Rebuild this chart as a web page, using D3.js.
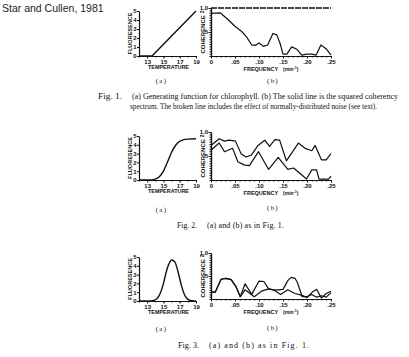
<!DOCTYPE html>
<html><head><meta charset="utf-8">
<script src="https://cdn.jsdelivr.net/npm/d3@7"></script>
<style>body{margin:0;background:#fff} svg{display:block}</style>
</head><body>
<svg id="c" width="409" height="357"></svg>
<script>
// ---------------- data ----------------
const tempTicks = [13, 15, 17, 19];
const fluorTicks = [0, 1, 2, 3, 4, 5];
const freqTicks = [0, 0.05, 0.10, 0.15, 0.20, 0.25];
const cohTicks = [0.5, 1.0];

// Fig. 1
const fig1Temp  = [12, 13.6, 19];
const fig1Fluor = [0, 0, 5];
const fig1Freq  = [0, .019, .033, .05, .064, .074, .085, .092, .10, .109, .118, .129, .137, .144, .150, .158, .168, .179, .189, .200, .210, .219, .229, .241, .25];
const fig1Coh   = [.89, .90, .78, .62, .51, .40, .23, .22, .27, .20, .23, .47, .44, .26, .04, .04, .19, .14, .02, .04, .04, .02, .23, .14, .02];
const fig1BrokenFreq = [0, 0.25];
const fig1BrokenCoh  = [1.0, 1.0];

// Fig. 2
const fig2Temp  = [12, 13, 13.5, 14, 14.5, 15, 15.5, 16, 16.5, 17, 17.5, 18, 19];
const fig2Fluor = [0, 0, 0.02, 0.1, 0.38, 1.0, 2.05, 3.15, 3.95, 4.4, 4.58, 4.65, 4.68];
const fig2FreqA = [0, .017, .028, .038, .051, .063, .073, .084, .098, .112, .122, .133, .143, .157, .182, .196, .21, .217, .23, .24, .25];
const fig2CohA  = [.72, .86, .81, .83, .81, .54, .48, .52, .72, .83, .70, .84, .83, .40, .77, .66, .61, .72, .42, .42, .55];
const fig2FreqB = [0, .017, .028, .045, .056, .07, .08, .099, .12, .14, .16, .172, .185, .199, .21, .22, .225, .245, .25];
const fig2CohB  = [.62, .77, .59, .66, .38, .31, .30, .59, .22, .47, .22, .25, .14, .02, .21, .21, .02, .02, .08];

// Fig. 3
const fig3Temp  = [12, 13, 13.5, 14, 14.4, 14.8, 15.0, 15.4, 15.8, 16.0, 16.4, 16.8, 17.2, 17.6, 18.0, 18.5, 19];
const fig3Fluor = [0, 0, 0.02, 0.12, 0.5, 1.35, 2.0, 3.5, 4.45, 4.66, 4.45, 3.3, 1.8, 0.68, 0.19, 0.03, 0];
const fig3FreqA = [0, .009, .021, .031, .042, .052, .061, .071, .085, .10, .11, .12, .13, .14, .15, .16, .167, .175, .18, .19, .20, .21, .22, .23, .24, .25];
const fig3CohA  = [.15, .15, .43, .45, .42, .27, .05, .33, .10, .39, .38, .22, .20, .20, .21, .40, .47, .45, .36, .05, .05, .10, .04, .07, .04, .14];
const fig3FreqB = [0, .009, .021, .031, .042, .052, .061, .071, .09, .105, .12, .13, .145, .16, .175, .19, .20, .21, .22, .23, .24, .25];
const fig3CohB  = [.15, .15, .43, .45, .42, .27, .05, .20, .05, .17, .22, .20, .10, .20, .12, .08, .03, .14, .21, .02, .12, .17];

const title = "Star and Cullen, 1981";
const caption1a = "(a) Generating function for chlorophyll. (b) The solid line is the squared coherency";
const caption1b = "spectrum. The broken line includes the effect of normally-distributed noise (see text).";
const captionSame = "(a) and (b) as in Fig. 1.";

// ---------------- drawing ----------------
const svg = d3.select("#c");
const INK = "#111";
const SANS = "'Liberation Sans', Arial, sans-serif";
const SERIF = "'Liberation Serif', 'Times New Roman', serif";

svg.append("text").attr("x", 2).attr("y", 12).attr("font-family", SANS).attr("font-size", 10.5)
  .attr("fill", "#222").text(title);

function styleAxis(g) {
  g.select(".domain").attr("stroke", INK).attr("stroke-width", 1.2);
  g.selectAll(".tick line").attr("stroke", INK).attr("stroke-width", 1);
  g.selectAll("text").attr("font-family", SANS).attr("font-weight", "bold")
    .attr("font-size", 6).attr("fill", INK);
}

function panelA(cfg, temps, vals, curve) {
  const x = d3.scaleLinear().domain([12, 19]).range(cfg.xr);
  const y = d3.scaleLinear().domain([0, 5]).range(cfg.yr);
  const g = svg.append("g");
  g.append("g").attr("transform", `translate(0,${cfg.yr[0]})`)
    .call(d3.axisBottom(x).tickValues(d3.range(12, 20, 1)).tickFormat("").tickSize(1.5).tickSizeOuter(0))
    .call(styleAxis);
  g.append("g").attr("transform", `translate(0,${cfg.yr[0]})`)
    .call(d3.axisBottom(x).tickValues(tempTicks).tickFormat(d3.format("d")).tickSize(2.5).tickPadding(1).tickSizeOuter(0))
    .call(styleAxis);
  g.append("g").attr("transform", `translate(${cfg.xr[0]},0)`)
    .call(d3.axisLeft(y).tickValues(fluorTicks).tickFormat(d3.format("d")).tickSize(2).tickPadding(0.5).tickSizeOuter(0))
    .call(styleAxis);
  const pts = temps.map((t, i) => [t, vals[i]]);
  g.append("path").datum(pts)
    .attr("d", d3.line().x(d => x(d[0])).y(d => y(d[1])).curve(curve))
    .attr("fill", "none").attr("stroke", INK).attr("stroke-width", 1.4);
  g.append("text").attr("transform", `translate(${cfg.xr[0] - 7},${(cfg.yr[0] + cfg.yr[1]) / 2}) rotate(-90)`)
    .attr("text-anchor", "middle").attr("font-family", SANS).attr("font-weight", "bold").attr("font-size", 6)
    .attr("textLength", 42).attr("lengthAdjust", "spacingAndGlyphs").attr("fill", INK).text("FLUORESENCE");
  g.append("text").attr("x", (cfg.xr[0] + cfg.xr[1]) / 2 + 1).attr("y", cfg.yr[0] + 13)
    .attr("text-anchor", "middle").attr("font-family", SANS).attr("font-weight", "bold").attr("font-size", 6)
    .attr("textLength", 41).attr("lengthAdjust", "spacingAndGlyphs").attr("fill", INK).text("TEMPERATURE");
  g.append("text").attr("x", (cfg.xr[0] + cfg.xr[1]) / 2 - 6).attr("y", cfg.labY)
    .attr("text-anchor", "middle").attr("font-family", SERIF).attr("font-size", 7).attr("letter-spacing", 1.2)
    .attr("fill", INK).text("(a)");
}

function panelB(cfg, series, broken) {
  const x = d3.scaleLinear().domain([0, 0.25]).range(cfg.xr);
  const y = d3.scaleLinear().domain([0, 1]).range(cfg.yr);
  const g = svg.append("g");
  const ffmt = d => d === 0 ? "0" : d3.format(".2f")(d).replace(/^0/, "");
  g.append("g").attr("transform", `translate(0,${cfg.yr[0]})`)
    .call(d3.axisBottom(x).tickValues(d3.range(0, 0.2501, 0.01)).tickFormat("").tickSize(1.5).tickSizeOuter(0))
    .call(styleAxis);
  g.append("g").attr("transform", `translate(0,${cfg.yr[0]})`)
    .call(d3.axisBottom(x).tickValues(freqTicks).tickFormat(ffmt).tickSize(2.5).tickPadding(1).tickSizeOuter(0))
    .call(styleAxis);
  g.append("g").attr("transform", `translate(${cfg.xr[0]},0)`)
    .call(d3.axisLeft(y).tickValues(d3.range(0, 1.001, 0.05)).tickFormat("").tickSize(1.5).tickSizeOuter(0))
    .call(styleAxis);
  g.append("g").attr("transform", `translate(${cfg.xr[0]},0)`)
    .call(d3.axisLeft(y).tickValues(cohTicks).tickFormat(d => d === 1 ? "1.0" : ".5").tickSize(2.5).tickPadding(0.5).tickSizeOuter(0))
    .call(styleAxis);
  const line = d3.line().x(d => x(d[0])).y(d => y(d[1]));
  if (broken) {
    g.append("path").datum(broken[0].map((f, i) => [f, broken[1][i]])).attr("d", line)
      .attr("fill", "none").attr("stroke", INK).attr("stroke-width", 1.6).attr("stroke-dasharray", "6,1");
  }
  series.forEach(s => {
    g.append("path").datum(s[0].map((f, i) => [f, s[1][i]])).attr("d", line)
      .attr("fill", "none").attr("stroke", INK).attr("stroke-width", 1.2).attr("stroke-linejoin", "round");
  });
  const lab = g.append("text").attr("transform", `translate(${cfg.xr[0] - 6},${(cfg.yr[0] + cfg.yr[1]) / 2}) rotate(-90)`)
    .attr("text-anchor", "middle").attr("font-family", SANS).attr("font-weight", "bold").attr("font-size", 6)
    .attr("fill", INK);
  lab.append("tspan").text("COHERENCE");
  lab.append("tspan").attr("dx", 2).attr("dy", -1).attr("font-size", 5).text("2");
  const fl = g.append("text").attr("x", (cfg.xr[0] + cfg.xr[1]) / 2).attr("y", cfg.yr[0] + 14.5)
    .attr("text-anchor", "middle").attr("font-family", SANS).attr("font-weight", "bold").attr("font-size", 5.5)
    .attr("fill", INK);
  fl.append("tspan").text("FREQUENCY");
  fl.append("tspan").attr("dx", 5).attr("font-size", 5).text("(min");
  fl.append("tspan").attr("dy", -2).attr("font-size", 3.5).text("-1");
  fl.append("tspan").attr("dy", 2).attr("font-size", 5).text(")");
  g.append("text").attr("x", (cfg.xr[0] + cfg.xr[1]) / 2 + 2).attr("y", cfg.labY)
    .attr("text-anchor", "middle").attr("font-family", SERIF).attr("font-size", 7).attr("letter-spacing", 1.2)
    .attr("fill", INK).text("(b)");
}

function caption(num, x1, x2, x3, y, text) {
  svg.append("text").attr("x", x1).attr("y", y).attr("font-family", SERIF).attr("font-size", 8)
    .attr("textLength", x2 - x1).attr("lengthAdjust", "spacingAndGlyphs").attr("fill", INK).text(`Fig. ${num}.`);
  svg.append("text").attr("x", x2 + 10).attr("y", y).attr("font-family", SERIF).attr("font-size", 8)
    .attr("textLength", x3 - x2 - 10).attr("lengthAdjust", "spacing").attr("fill", INK).text(text);
}

// Fig 1
panelA({xr: [139, 196], yr: [56, 11], labY: 83}, fig1Temp, fig1Fluor, d3.curveLinear);
panelB({xr: [211, 331], yr: [56, 8], labY: 83}, [[fig1Freq, fig1Coh]], [fig1BrokenFreq, fig1BrokenCoh]);
caption(1, 98, 122, 398, 98.5, caption1a);
svg.append("text").attr("x", 130).attr("y", 108.5).attr("font-family", SERIF).attr("font-size", 8)
  .attr("textLength", 247).attr("lengthAdjust", "spacingAndGlyphs").attr("fill", INK).text(caption1b);

// Fig 2
panelA({xr: [139, 196], yr: [180, 136], labY: 211.5}, fig2Temp, fig2Fluor, d3.curveMonotoneX);
panelB({xr: [211, 331], yr: [180, 132], labY: 210}, [[fig2FreqA, fig2CohA], [fig2FreqB, fig2CohB]]);
caption(2, 177, 197, 284, 228, captionSame);

// Fig 3
panelA({xr: [139, 196], yr: [301, 257], labY: 331}, fig3Temp, fig3Fluor, d3.curveMonotoneX);
panelB({xr: [211, 331], yr: [299, 253], labY: 330}, [[fig3FreqA, fig3CohA], [fig3FreqB, fig3CohB]]);
caption(3, 178, 199, 309, 348, captionSame);
</script>
</body></html>
